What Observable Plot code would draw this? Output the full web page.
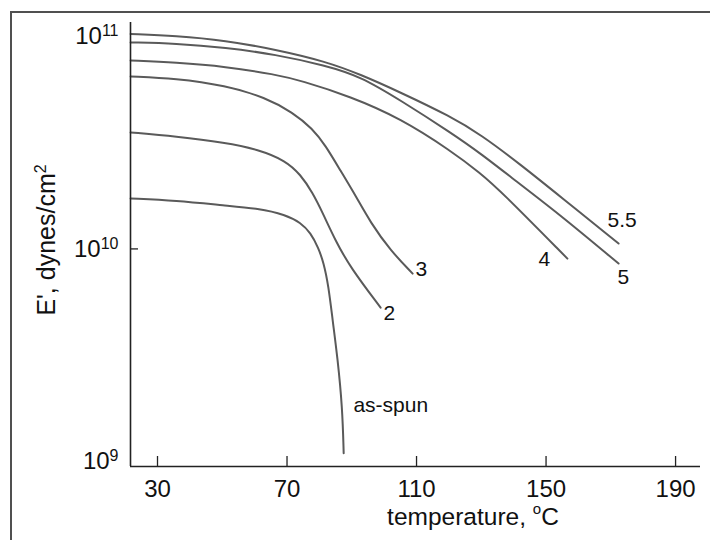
<!DOCTYPE html>
<html><head><meta charset="utf-8">
<script src="https://cdn.jsdelivr.net/npm/d3@7"></script>
<script src="https://cdn.jsdelivr.net/npm/@observablehq/plot@0.6"></script>
<style>
body{margin:0;background:#fff;}
#wrap{position:relative;width:710px;height:540px;overflow:hidden;background:#fff;}
#border{position:absolute;left:10px;top:11px;width:800px;height:800px;border-left:2px solid #505050;border-top:2px solid #505050;pointer-events:none;}
svg{display:block;}
</style></head><body><div id="wrap"></div>
<script>
// ---- data ----
const xDomain = [21.66, 197.7];
const yDomain = [9.43e8, 1.167e11];
const xTicks = [30, 70, 110, 150, 190];
const yTicks = [1e9, 1e10, 1e11];
const yTickBase = ["10", "10", "10"];
const yTickExp = ["9", "10", "11"];
const xLabelParts = ["temperature, ", "o", "C"];
const yLabelParts = ["E', dynes/cm", "2"];

const seriesNames = ["as-spun", "2", "3", "4", "5", "5.5"];
const T_asSpun = [21.7, 35.6, 51.0, 61.2, 69.5, 74.2, 77.3, 79.7, 81.3, 82.8, 84.1, 85.6, 87.1, 87.5];
const E_asSpun = [1.73e10, 1.69e10, 1.60e10, 1.55e10, 1.45e10, 1.33e10, 1.19e10, 1.01e10, 8.62e9, 6.71e9, 4.59e9, 3.07e9, 1.78e9, 1.09e9];
const T_2 = [21.7, 35.6, 51.0, 61.2, 69.5, 74.2, 77.9, 81.0, 85.0, 89.6, 98.9];
const E_2 = [3.54e10, 3.39e10, 3.17e10, 2.94e10, 2.61e10, 2.24e10, 1.84e10, 1.48e10, 1.09e10, 8.16e9, 5.29e9];
const T_3 = [21.7, 35.6, 51.0, 63.4, 71.7, 77.9, 81.9, 86.5, 91.2, 95.8, 102.0, 108.8];
const E_3 = [6.50e10, 6.36e10, 5.89e10, 5.17e10, 4.40e10, 3.69e10, 3.07e10, 2.34e10, 1.78e10, 1.33e10, 9.8e9, 7.65e9];
const T_4 = [21.7, 35.6, 51.0, 66.4, 74.2, 89.6, 105.1, 120.5, 129.8, 135.9, 156.6];
const E_4 = [7.73e10, 7.56e10, 7.24e10, 6.64e10, 6.22e10, 5.23e10, 4.12e10, 2.91e10, 2.27e10, 1.88e10, 9.0e9];
const T_5 = [21.7, 35.6, 51.0, 66.4, 81.9, 92.7, 105.1, 120.5, 129.8, 142.1, 154.5, 172.4];
const E_5 = [9.40e10, 9.30e10, 8.90e10, 8.25e10, 7.32e10, 6.50e10, 5.01e10, 3.54e10, 2.82e10, 2.01e10, 1.44e10, 8.53e9];
const T_55 = [21.7, 35.6, 51.0, 66.4, 81.9, 92.7, 105.1, 120.5, 129.8, 142.1, 154.5, 172.4];
const E_55 = [1.03e11, 1.01e11, 9.60e10, 8.71e10, 7.65e10, 6.64e10, 5.46e10, 4.21e10, 3.46e10, 2.50e10, 1.76e10, 1.06e10];

const labelNames = ["5.5", "5", "4", "3", "2", "as-spun"];
const labelT = [169.0, 172.1, 147.7, 109.7, 99.8, 90.5];
const labelE = [1.36e10, 7.32e9, 8.9e9, 7.99e9, 5.0e9, 1.84e9];

// ---- build tables ----
const seriesT = [T_asSpun, T_2, T_3, T_4, T_5, T_55];
const seriesE = [E_asSpun, E_2, E_3, E_4, E_5, E_55];
const rows = seriesNames.flatMap((name, s) => seriesT[s].map((t, i) => ({series: name, T: t, E: seriesE[s][i]})));
const labels = labelNames.map((n, i) => ({name: n, T: labelT[i], E: labelE[i]}));

const W = 710, H = 540, mL = 130, mR = 10, mT = 22, mB = 74;
const frameW = W - mL - mR, frameH = H - mT - mB;
const ink = "#222";

const chart = Plot.plot({
  width: W, height: H,
  marginLeft: mL, marginRight: mR, marginTop: mT, marginBottom: mB,
  x: {domain: xDomain, label: null},
  y: {type: "log", domain: yDomain, axis: null},
  style: {fontFamily: "'Liberation Sans', Arial, Helvetica, sans-serif", color: "#111", background: "transparent", overflow: "visible"},
  marks: [
    Plot.line(rows, {x: "T", y: "E", z: "series", curve: "basis", stroke: "#5a5a5a", strokeWidth: 2}),
    Plot.ruleX([xDomain[0]], {stroke: ink, strokeWidth: 1.6}),
    Plot.ruleY([yDomain[0]], {stroke: ink, strokeWidth: 1.6}),
    Plot.ruleX(xTicks, {x: d => d, insetTop: frameH - 10, stroke: ink, strokeWidth: 1.3}),
    Plot.ruleY([yTicks[1]], {y: d => d, insetRight: frameW - 8, stroke: ink, strokeWidth: 1.3}),
    Plot.axisX({ticks: xTicks, tickSize: 0, tickPadding: 13, fontSize: 24, label: null, fill: "#111"}),
    Plot.text(yTicks, {y: d => d, text: (d, i) => yTickBase[i] + "^" + yTickExp[i], frameAnchor: "left", dx: -12, textAnchor: "end", fontSize: 24, fill: "#111"}),
    Plot.text(labels, {x: "T", y: "E", text: "name", textAnchor: "start", fontSize: 21, fill: "#111"})
  ]
});

const svg = d3.select(chart);
svg.selectAll("text").filter(function() { return this.textContent.includes("^"); }).each(function() {
  const parts = this.textContent.split("^");
  const t = d3.select(this);
  t.selectAll("*").remove();
  t.text("");
  t.append("tspan").text(parts[0]);
  t.append("tspan").attr("dy", -8).attr("font-size", 16).text(parts[1]);
});

// axis titles
const xl = svg.append("text")
  .attr("x", 473).attr("y", 525)
  .attr("text-anchor", "middle").attr("font-size", 24.5).attr("fill", "#111");
xl.append("tspan").text(xLabelParts[0]);
xl.append("tspan").attr("dy", -11).attr("font-size", 15).text(xLabelParts[1]);
xl.append("tspan").attr("dy", 11).text(xLabelParts[2]);

const yl = svg.append("text")
  .attr("transform", "translate(55,240) rotate(-90)")
  .attr("text-anchor", "middle").attr("font-size", 25).attr("fill", "#111");
yl.append("tspan").text(yLabelParts[0]);
yl.append("tspan").attr("dy", -9).attr("font-size", 16).text(yLabelParts[1]);

const wrap = document.getElementById("wrap");
wrap.appendChild(chart);
const b = document.createElement("div");
b.id = "border";
wrap.appendChild(b);
</script>
</body></html>
